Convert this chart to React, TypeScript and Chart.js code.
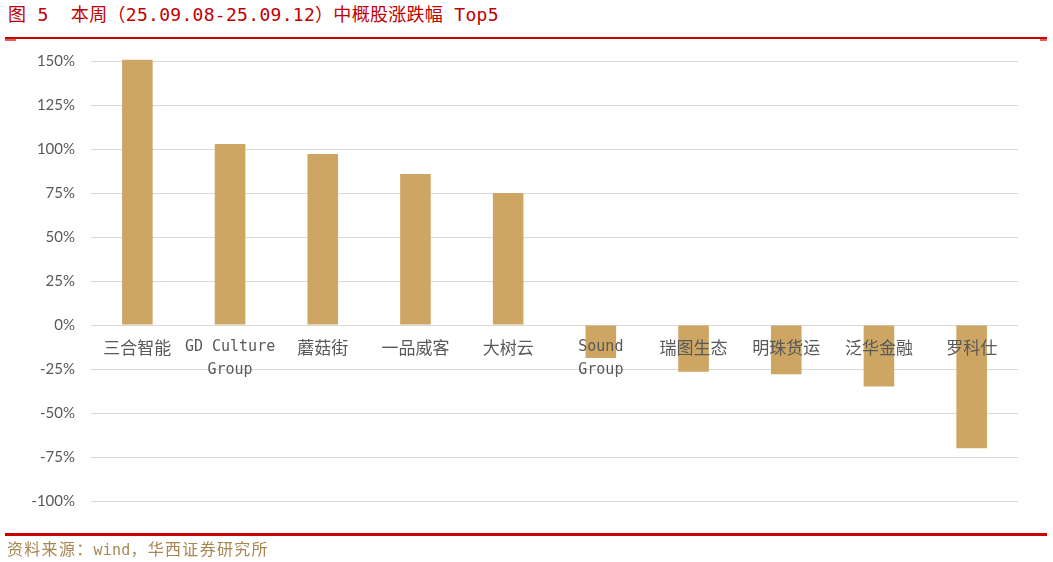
import React, { useEffect, useRef } from "react";
import { Chart, registerables } from "chart.js";

Chart.register(...registerables);

const categories: (string | string[])[] = [
  "三合智能",
  ["GD Culture", "Group"],
  "蘑菇街",
  "一品威客",
  "大树云",
  ["Sound", "Group"],
  "瑞图生态",
  "明珠货运",
  "泛华金融",
  "罗科仕",
];
const changes: number[] = [150.7, 102.8, 97.2, 85.8, 75, -18.8, -26.6, -28, -35, -70];
const yMin = -100;
const yMax = 150;
const yStep = 25;

const titleText = "图 5  本周（25.09.08-25.09.12）中概股涨跌幅 Top5";
const sourceParts: string[] = ["资料来源：", "wind", "，华西证券研究所"];

const MONO_CJK = "'DejaVu Sans Mono', 'Noto Sans CJK SC', sans-serif";
const CJK = "'Noto Sans CJK SC', sans-serif";

export default function App() {
  const canvasRef = useRef<HTMLCanvasElement | null>(null);

  useEffect(() => {
    if (!canvasRef.current) return;
    const chart = new Chart(canvasRef.current, {
      type: "bar",
      data: {
        labels: categories,
        datasets: [
          {
            data: changes,
            backgroundColor: "#CDA663",
            borderWidth: 0,
            categoryPercentage: 1,
            barPercentage: 0.33,
            clip: false as any,
          },
        ],
      },
      options: {
        animation: false,
        responsive: false,
        maintainAspectRatio: false,
        layout: { padding: { left: 0, right: 35, top: 61, bottom: 61 } },
        plugins: {
          legend: { display: false },
          tooltip: { enabled: false },
          title: { display: false },
        },
        scales: {
          x: {
            position: { y: 0 } as any,
            grid: { display: false, drawTicks: false },
            border: { display: false },
            ticks: {
              z: 1,
              padding: 11,
              color: "#595959",
              maxRotation: 0,
              autoSkip: false,
              font: (ctx: any) => {
                const lbl = categories[ctx.index];
                return Array.isArray(lbl)
                  ? { family: MONO_CJK, size: 15, lineHeight: 1.5 }
                  : { family: CJK, size: 17, lineHeight: 1.32 };
              },
            },
          },
          y: {
            min: yMin,
            max: yMax,
            afterFit: (scale: any) => {
              scale.width = 91;
            },
            grid: { color: "#D9D9D9", lineWidth: 1, drawTicks: false },
            border: { display: false },
            ticks: {
              stepSize: yStep,
              padding: 16,
              color: "#595959",
              font: { family: "Lato, 'Open Sans', sans-serif", size: 15 },
              callback: (v: any) => `${v}%`,
            },
          },
        },
      },
    });
    return () => chart.destroy();
  }, []);

  const cjkSpan = { fontFamily: CJK, fontSize: 16, letterSpacing: "1.3px" };
  const monoSpan = { fontFamily: "'DejaVu Sans Mono', monospace", fontSize: 15, letterSpacing: "0.2px" };

  return (
    <div style={{ position: "absolute", left: 0, top: 0, width: 1053, height: 562, background: "#fff", overflow: "hidden" }}>
      <div
        style={{
          position: "absolute",
          left: 8,
          top: 3,
          fontFamily: MONO_CJK,
          fontSize: 18,
          letterSpacing: "0.3px",
          color: "#C00000",
          whiteSpace: "pre",
          lineHeight: "24px",
        }}
      >
        {titleText}
      </div>
      <div style={{ position: "absolute", left: 5, top: 37, width: 1042, height: 2, background: "#CC0000" }} />
      <div style={{ position: "absolute", left: 5, top: 39, width: 11, height: 2, background: "#E06060" }} />
      <div style={{ position: "absolute", left: 1040, top: 39, width: 7, height: 2, background: "#E06060" }} />
      <canvas ref={canvasRef} width={1053} height={562} style={{ position: "absolute", left: 0, top: 0 }} />
      <div style={{ position: "absolute", left: 5, top: 533, width: 1042, height: 3, background: "#CC0000" }} />
      <div
        style={{
          position: "absolute",
          left: 7,
          top: 538,
          color: "#A88650",
          whiteSpace: "pre",
          lineHeight: "20px",
        }}
      >
        <span style={cjkSpan}>{sourceParts[0]}</span>
        <span style={monoSpan}>{sourceParts[1]}</span>
        <span style={cjkSpan}>{sourceParts[2]}</span>
      </div>
    </div>
  );
}
